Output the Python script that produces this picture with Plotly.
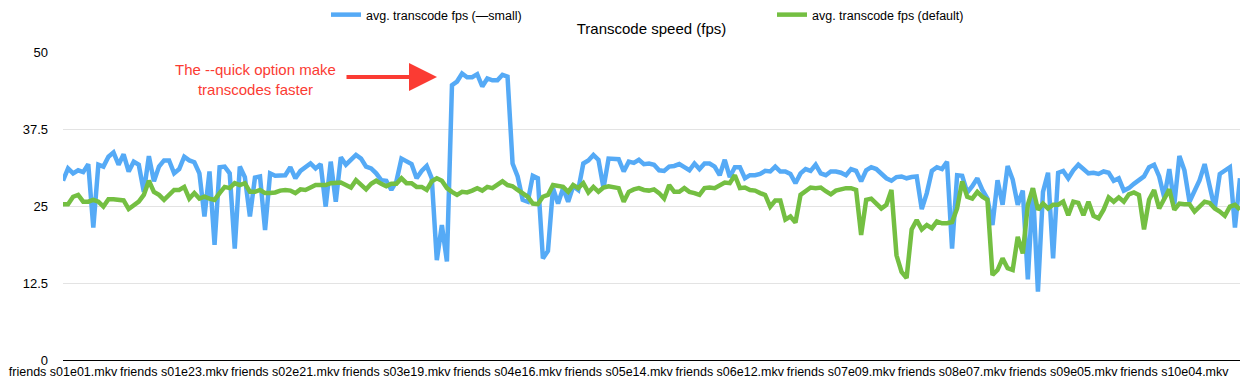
import plotly.graph_objects as go

# Episode categories (season lengths as present in the source data)
season_lengths = [24, 24, 25, 24, 24, 25, 24, 24, 23, 17]
categories = [f"friends s{s + 1:02d}e{e + 1:02d}.mkv"
              for s, n in enumerate(season_lengths) for e in range(n)]

fps_small = [
    29.1, 31.1, 30.3, 30.8, 30.5, 31.8, 21.5, 31.7, 31.4, 33.0,
    33.7, 31.7, 33.4, 30.6, 32.2, 31.7, 27.3, 33.1, 29.0, 31.4,
    32.4, 32.4, 30.3, 31.0, 33.0, 32.4, 32.1, 30.3, 23.3, 30.6,
    18.7, 31.3, 31.4, 30.3, 18.1, 31.4, 29.7, 23.3, 29.6, 29.8,
    21.1, 30.3, 29.9, 29.9, 30.0, 31.3, 29.5, 30.7, 31.4, 31.9,
    31.1, 31.8, 24.9, 32.2, 25.7, 32.9, 31.7, 32.4, 33.3, 32.7,
    31.4, 31.1, 30.3, 29.2, 29.1, 27.6, 29.0, 32.7, 32.2, 31.8,
    29.5, 30.7, 31.5, 29.5, 16.2, 21.9, 16.0, 44.6, 45.2, 46.5,
    45.9, 45.9, 46.4, 44.4, 45.7, 45.4, 45.4, 46.3, 46.0, 31.9,
    29.8, 26.0, 25.7, 29.9, 29.5, 16.5, 17.7, 27.9, 25.4, 27.9,
    25.7, 28.2, 27.6, 31.9, 32.4, 33.3, 32.5, 27.9, 32.7, 32.6,
    32.6, 30.6, 32.2, 32.0, 32.5, 31.8, 31.9, 31.7, 30.8, 30.7,
    31.4, 31.5, 31.8, 31.3, 30.8, 31.9, 31.0, 31.9, 31.9, 31.4,
    30.0, 32.5, 29.7, 31.3, 31.3, 29.5, 30.0, 30.0, 30.2, 30.7,
    30.6, 31.4, 30.6, 30.6, 30.2, 28.7, 30.3, 31.0, 30.7, 31.7,
    30.3, 30.0, 30.6, 30.6, 30.4, 30.0, 31.0, 30.7, 29.0, 30.8,
    31.3, 31.0, 30.2, 29.5, 29.1, 29.7, 29.8, 29.5, 29.7, 29.8,
    24.5, 27.1, 30.7, 31.3, 31.0, 32.2, 18.1, 30.0, 29.9, 27.2,
    28.2, 29.5, 27.6, 26.2, 21.9, 29.2, 25.2, 31.5, 29.3, 25.2,
    27.5, 13.1, 27.9, 11.1, 27.3, 30.4, 16.5, 30.4, 30.7, 29.5,
    30.8, 31.7, 31.0, 30.3, 30.4, 30.2, 30.6, 30.4, 29.1, 29.5,
    27.5, 27.9, 28.6, 29.2, 29.8, 31.3, 31.7, 29.8, 26.4, 31.0,
    25.3, 33.1, 30.8, 25.7, 27.3, 29.2, 31.8, 28.1, 24.6, 30.2,
    30.8, 31.3, 21.5, 29.5,
]

fps_default = [
    25.3, 25.3, 26.5, 26.8, 25.7, 25.7, 26.0, 25.7, 24.9, 26.1,
    26.1, 26.0, 25.9, 24.5, 25.0, 25.7, 26.8, 29.1, 27.3, 26.8,
    26.0, 26.9, 27.6, 27.6, 28.1, 26.2, 27.1, 26.2, 26.5, 26.2,
    26.0, 27.1, 28.1, 27.9, 28.7, 28.4, 28.7, 27.3, 27.3, 27.6,
    27.1, 27.1, 27.2, 27.5, 27.6, 27.5, 27.1, 27.7, 27.6, 28.0,
    28.4, 28.4, 28.4, 28.7, 28.8, 28.8, 28.4, 28.0, 29.2, 28.4,
    27.7, 28.6, 29.1, 28.6, 28.2, 28.6, 28.6, 29.5, 28.7, 28.7,
    28.1, 28.1, 27.6, 29.0, 29.5, 29.1, 27.9, 27.3, 26.8, 27.3,
    27.2, 27.5, 27.9, 27.5, 28.1, 27.9, 28.4, 29.0, 28.4, 28.2,
    27.6, 27.1, 26.5, 25.4, 25.3, 26.5, 26.8, 28.4, 28.2, 28.1,
    27.3, 28.4, 27.9, 28.7, 27.2, 28.1, 27.3, 28.0, 28.2, 28.1,
    27.9, 25.7, 27.3, 27.7, 27.9, 27.6, 27.5, 27.7, 27.1, 26.2,
    28.4, 27.3, 27.3, 27.9, 27.3, 27.1, 26.8, 27.9, 28.0, 27.9,
    28.4, 28.8, 28.7, 30.0, 27.9, 28.0, 27.6, 27.5, 27.1, 26.8,
    24.9, 25.9, 25.9, 22.8, 23.3, 22.3, 26.8, 27.3, 28.0, 27.9,
    28.0, 27.4, 26.9, 27.5, 27.7, 27.9, 27.9, 27.6, 20.3, 26.0,
    26.2, 25.4, 24.6, 25.2, 27.6, 17.0, 14.3, 13.3, 21.2, 22.7,
    21.2, 21.9, 21.4, 22.5, 22.2, 22.2, 22.4, 24.6, 29.0, 26.5,
    26.2, 27.3, 26.5, 26.0, 13.8, 14.6, 16.5, 14.9, 14.6, 20.0,
    17.3, 25.2, 27.9, 24.4, 25.4, 24.6, 25.2, 25.2, 25.7, 23.5,
    25.7, 25.5, 23.5, 25.7, 23.4, 23.0, 24.4, 26.4, 25.7, 26.4,
    25.7, 26.9, 27.2, 26.8, 21.2, 26.0, 27.6, 24.6, 26.2, 27.7,
    24.4, 25.4, 25.3, 25.3, 24.1, 25.0, 25.7, 25.5, 24.6, 24.1,
    23.4, 24.9, 25.2, 24.4,
]

y_ticks = [0, 12.5, 25, 37.5, 50]
y_tick_labels = ["0", "12.5", "25", "37.5", "50"]
x_tick_step = 22
x_ticks = categories[::x_tick_step]

BLUE = "#55aaf6"
GREEN = "#74bf42"
RED = "#fb3b33"
FONT = "Liberation Sans, Arial, Helvetica, sans-serif"

fig = go.Figure()
fig.add_trace(go.Scatter(
    x=categories, y=fps_small, mode="lines",
    name="avg. transcode fps (\u2014small)",
    line=dict(color=BLUE, width=4.5),
))
fig.add_trace(go.Scatter(
    x=categories, y=fps_default, mode="lines",
    name="avg. transcode fps (default)",
    line=dict(color=GREEN, width=4.5),
))

fig.update_layout(
    width=1251, height=391,
    margin=dict(l=63, r=11, t=52, b=31, autoexpand=False),
    paper_bgcolor="white", plot_bgcolor="white",
    font=dict(family=FONT, size=13, color="#000000"),
    title=dict(text="Transcode speed (fps)", x=0.5, xref="paper",
               xanchor="center", y=1 - 29 / 391, yanchor="middle",
               font=dict(size=15, color="#000000")),
    showlegend=True,
    legend=dict(orientation="h", x=(326 - 63) / 1177, xanchor="left",
                yref="container", y=1.0, yanchor="top",
                entrywidth=401, entrywidthmode="pixels",
                itemwidth=30, font=dict(size=12.5),
                bgcolor="rgba(0,0,0,0)"),
    xaxis=dict(type="category", range=[0, len(categories) - 1],
               tickmode="array", tickvals=x_ticks, ticktext=x_ticks,
               tickangle=0, ticks="", showgrid=False, automargin=False,
               showline=True, linecolor="#000000", linewidth=1,
               tickfont=dict(size=12.5), zeroline=False),
    yaxis=dict(range=[0, 50], tickmode="array", tickvals=y_ticks,
               ticktext=y_tick_labels, showgrid=True, automargin=False,
               gridcolor="#e3e3e3", gridwidth=1, zeroline=False,
               ticks="", ticklabelstandoff=14,
               tickfont=dict(size=13), showline=False),
)

fig.add_annotation(
    text="The --quick option make<br>transcodes faster",
    xref="paper", yref="paper",
    x=(255 - 63) / 1177, y=(360 - 79) / 308,
    xanchor="center", yanchor="middle",
    showarrow=False, font=dict(size=15, color=RED),
)
fig.add_annotation(
    text="", xref="paper", yref="paper",
    x=(437 - 63) / 1177, y=(360 - 77) / 308,
    ax=-92, ay=0, showarrow=True,
    arrowhead=2, arrowsize=1.4, arrowwidth=4, arrowcolor=RED,
)

fig.write_html(
    "out.html",
    config={"displayModeBar": False},
    post_script="document.body.style.margin='0';document.body.style.padding='0';",
)
